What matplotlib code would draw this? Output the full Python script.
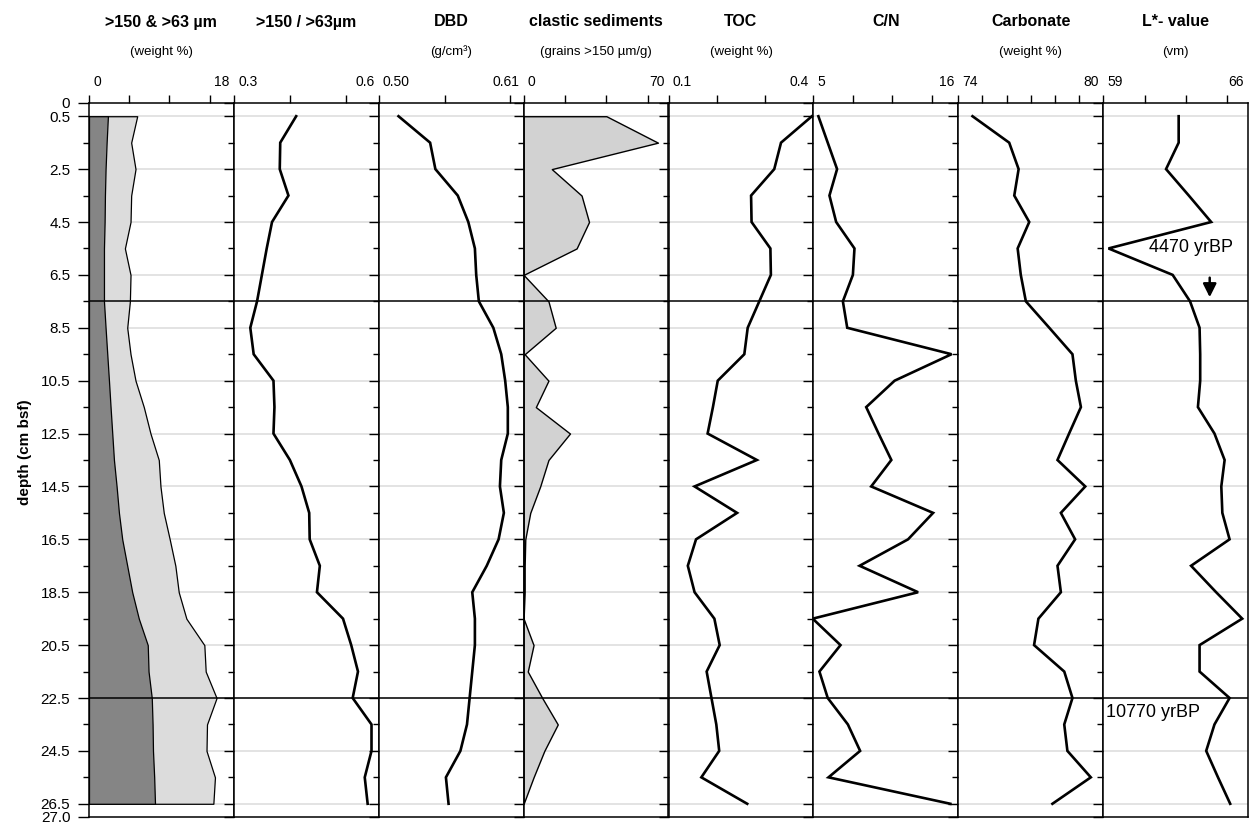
import matplotlib
matplotlib.use("Agg")
import matplotlib.pyplot as plt
from matplotlib import font_manager

def pick(names):
    for n in names:
        try:
            font_manager.findfont(n, fallback_to_default=False)
            return n
        except Exception:
            pass
    return "DejaVu Sans"

NARROW = pick(["Liberation Sans Narrow", "Liberation Sans"])
SANS = pick(["Liberation Sans", "DejaVu Sans"])
plt.rcParams["font.family"] = [SANS, "DejaVu Sans"]

# ---------------- data ----------------
depth = [0.5, 1.5, 2.5, 3.5, 4.5, 5.5, 6.5, 7.5, 8.5, 9.5, 10.5, 11.5, 12.5, 13.5,
         14.5, 15.5, 16.5, 17.5, 18.5, 19.5, 20.5, 21.5, 22.5, 23.5, 24.5, 25.5, 26.5]

coarse150 = [2.35, 2.19, 2.06, 1.98, 1.94, 1.86, 1.86, 1.86, 2.06, 2.27, 2.48, 2.68, 2.89, 3.10,
             3.43, 3.72, 4.13, 4.75, 5.37, 6.19, 7.30, 7.40, 7.80, 7.90, 7.95, 8.10, 8.20]
fine63 = [5.99, 5.24, 5.78, 5.24, 5.16, 4.46, 5.16, 5.08, 4.75, 5.16, 5.78, 6.81, 7.64, 8.67,
          8.88, 9.29, 10.03, 10.73, 11.15, 12.10, 14.33, 14.50, 15.85, 14.66, 14.60, 15.65, 15.45]
ratio = [0.429, 0.396, 0.395, 0.413, 0.379, 0.368, 0.358, 0.348, 0.334, 0.341, 0.382, 0.384, 0.382, 0.416,
         0.440, 0.456, 0.457, 0.478, 0.472, 0.526, 0.543, 0.557, 0.546, 0.585, 0.585, 0.571, 0.577]
dbd = [0.515, 0.539, 0.543, 0.560, 0.568, 0.573, 0.574, 0.576, 0.587, 0.593, 0.596, 0.598, 0.598, 0.593,
       0.592, 0.595, 0.591, 0.582, 0.571, 0.573, 0.573, 0.571, 0.569, 0.567, 0.562, 0.551, 0.553]
clastic = [40.0, 64.9, 13.6, 28.0, 31.6, 25.6, 0.0, 12.0, 15.5, 0.5, 12.0, 5.9, 22.4, 12.0,
           8.0, 3.2, 0.8, 0.5, 0.5, 0.0, 4.8, 2.0, 9.0, 16.5, 10.0, 4.8, 0.0]
toc = [0.397, 0.333, 0.319, 0.271, 0.272, 0.311, 0.312, 0.288, 0.264, 0.257, 0.202, 0.192, 0.181, 0.283,
       0.154, 0.242, 0.157, 0.140, 0.154, 0.195, 0.206, 0.179, 0.189, 0.199, 0.205, 0.168, 0.263]
cn = [5.38, 6.09, 6.80, 6.22, 6.73, 8.12, 8.00, 7.24, 7.57, 15.49, 11.17, 9.01, 9.95, 10.92,
      9.39, 14.09, 12.19, 8.51, 12.95, 4.95, 7.06, 5.46, 6.09, 7.62, 8.55, 6.15, 15.40]
carb = [74.59, 76.11, 76.50, 76.32, 76.94, 76.46, 76.59, 76.80, 77.77, 78.73, 78.87, 79.08, 78.59, 78.11,
        79.26, 78.25, 78.84, 78.11, 78.25, 77.32, 77.14, 78.39, 78.73, 78.39, 78.52, 79.49, 77.90]
lstar = [62.65, 62.65, 62.04, 63.14, 64.22, 59.26, 62.36, 63.20, 63.66, 63.69, 63.69, 63.58, 64.38, 64.87,
         64.71, 64.76, 65.11, 63.25, 64.46, 65.72, 63.66, 63.66, 65.11, 64.38, 63.98, 64.55, 65.14]

titles = [">150 & >63 µm", ">150 / >63µm", "DBD", "clastic sediments", "TOC", "C/N", "Carbonate", "L*- value"]
units = ["(weight %)", "", "(g/cm³)", "(grains >150 µm/g)", "(weight %)", "", "(weight %)", "(vm)"]
xlims = [(0, 18), (0.3, 0.6), (0.50, 0.61), (0, 70), (0.1, 0.4), (5, 16), (74, 80), (59, 66)]
xlabels = [("0", "18"), ("0.3", "0.6"), ("0.50", "0.61"), ("0", "70"), ("0.1", "0.4"),
           ("5", "16"), ("74", "80"), ("59", "66")]
xticks = [[0, 5, 10, 15], [0.3, 0.416, 0.532], [0.50, 0.55, 0.60], [0, 20, 40, 60],
          [0.1, 0.2, 0.3], [5, 8, 11, 14], [74, 75, 76, 77, 78, 79], [59, 61, 63, 65]]

depth_major = [0, 0.5, 2.5, 4.5, 6.5, 8.5, 10.5, 12.5, 14.5, 16.5, 18.5, 20.5, 22.5, 24.5, 26.5, 27.0]
depth_major_labels = ["0", "0.5", "2.5", "4.5", "6.5", "8.5", "10.5", "12.5", "14.5", "16.5",
                      "18.5", "20.5", "22.5", "24.5", "26.5", "27.0"]
depth_minor = [1.5, 3.5, 5.5, 7.5, 9.5, 11.5, 13.5, 15.5, 17.5, 19.5, 21.5, 23.5, 25.5]
grid_depths = [0.5, 2.5, 4.5, 6.5, 8.5, 10.5, 12.5, 14.5, 16.5, 18.5, 20.5, 22.5, 24.5, 26.5]
event_depths = [7.5, 22.5]

# ---------------- layout ----------------
W, H = 1250, 832
fig = plt.figure(figsize=(W / 100, H / 100), dpi=100)
left_px, right_px, top_px, bot_px = 89, 1248, 103, 817
pw = (right_px - left_px) / 8.0

axes = []
for i in range(8):
    x0 = (left_px + i * pw) / W
    ax = fig.add_axes([x0, 1 - bot_px / H, pw / W, (bot_px - top_px) / H])
    axes.append(ax)

series = [None, ratio, dbd, None, toc, cn, carb, lstar]

for i, ax in enumerate(axes):
    ax.set_xlim(*xlims[i])
    ax.set_ylim(27, 0)
    for d in grid_depths:
        ax.axhline(d, color="#e0e0e0", lw=1.3, zorder=0)
    if i == 0:
        ax.fill_betweenx(depth, 0, fine63, facecolor="#dcdcdc", edgecolor="black", lw=0.9, zorder=2)
        ax.fill_betweenx(depth, 0, coarse150, facecolor="#858585", edgecolor="black", lw=0.9, zorder=3)
    elif i == 3:
        ax.fill_betweenx(depth, 0, clastic, facecolor="#d2d2d2", edgecolor="black", lw=1.0, zorder=2)
    else:
        ax.plot(series[i], depth, color="black", lw=1.9, zorder=3, solid_joinstyle="miter")
    for d in event_depths:
        ax.axhline(d, color="black", lw=1.1, zorder=4)

    for s in ax.spines.values():
        s.set_linewidth(1.1)
        s.set_zorder(5)

    # top axis
    ax.xaxis.tick_top()
    ax.set_xticks(xticks[i])
    ax.set_xticklabels([])
    ax.tick_params(axis="x", which="both", direction="out", length=5.5, width=1.0, top=True, bottom=False)

    # depth axis
    ax.set_yticks(depth_major)
    ax.set_yticks(depth_minor, minor=True)
    if i == 0:
        ax.set_yticklabels(depth_major_labels, fontsize=11)
        ax.tick_params(axis="y", which="major", length=8, width=1.0, pad=5.5)
        ax.tick_params(axis="y", which="minor", length=4.3, width=1.0)
    else:
        ax.set_yticklabels([])
        ax.tick_params(axis="y", which="major", length=7.5, width=1.0)
        ax.tick_params(axis="y", which="minor", length=4, width=1.0)

    lo, hi = xlabels[i]
    ax.annotate(lo, xy=(0, 1), xycoords="axes fraction", xytext=(3, 12), textcoords="offset points",
                ha="left", va="baseline", fontsize=10)
    ax.annotate(hi, xy=(1, 1), xycoords="axes fraction", xytext=(-3, 12), textcoords="offset points",
                ha="right", va="baseline", fontsize=10)

    cx = (left_px + (i + 0.5) * pw) / W
    fig.text(cx, 1 - 22 / H, titles[i], ha="center", va="center", fontsize=11.5,
             fontweight="bold", family=[NARROW, "DejaVu Sans"])
    if units[i]:
        fig.text(cx, 1 - 52 / H, units[i], ha="center", va="center", fontsize=9.5,
                 family=[NARROW, "DejaVu Sans"])

fig.text(25 / W, 1 - 452 / H, "depth (cm bsf)", rotation=90, ha="center", va="center",
         fontsize=11, fontweight="bold", family=[NARROW, "DejaVu Sans"])

axL = axes[7]
axL.text(61.2, 5.45, "4470 yrBP", fontsize=13, ha="left", va="center", zorder=6)
axL.annotate("", xy=(64.15, 7.45), xytext=(64.15, 6.5),
             arrowprops=dict(arrowstyle="-|>", color="black", lw=1.8, mutation_scale=20), zorder=6)
axL.text(59.12, 23.05, "10770 yrBP", fontsize=13, ha="left", va="center", zorder=6)

fig.savefig("out.png", dpi=100)
